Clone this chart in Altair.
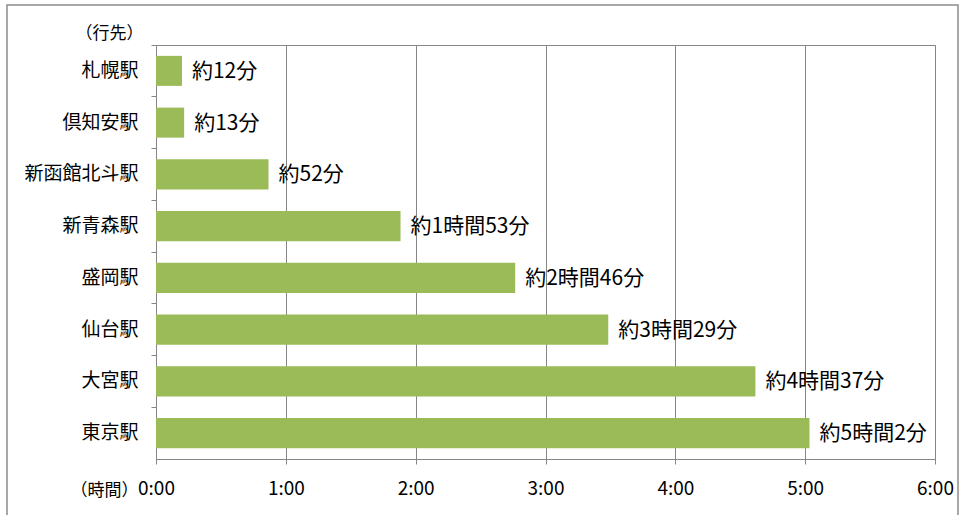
import altair as alt
import pandas as pd

stations = ["札幌駅", "倶知安駅", "新函館北斗駅", "新青森駅", "盛岡駅", "仙台駅", "大宮駅", "東京駅"]
minutes = [12, 13, 52, 113, 166, 209, 277, 302]
labels = ["約12分", "約13分", "約52分", "約1時間53分", "約2時間46分", "約3時間29分", "約4時間37分", "約5時間2分"]
x_ticks = [0, 60, 120, 180, 240, 300, 360]

df = pd.DataFrame({"station": stations, "minutes": minutes, "label": labels})

FONT = "Noto Sans CJK JP"
GRID = "#868686"

y_enc = alt.Y(
    "station:N",
    sort=stations,
    scale=alt.Scale(paddingInner=0, paddingOuter=0),
    axis=alt.Axis(
        title="（行先）",
        titleAngle=0,
        titleX=-47,
        titleY=-12,
        titleAlign="center",
        titleBaseline="middle",
        titleFont=FONT,
        titleFontSize=17,
        titleFontWeight="normal",
        titleColor="#000000",
        labelFont=FONT,
        labelFontSize=19,
        labelColor="#000000",
        labelPadding=13,
        tickSize=5,
        tickColor=GRID,
        domainColor=GRID,
        bandPosition=0,
        grid=False,
    ),
)

x_enc = alt.X(
    "minutes:Q",
    scale=alt.Scale(domain=[0, 360], nice=False),
    axis=alt.Axis(
        values=x_ticks,
        labelExpr="floor(datum.value / 60) + ':00'",
        labelFlush=False,
        labelOverlap=False,
        title="（時間）",
        titleX=-52,
        titleY=31,
        titleAlign="center",
        titleBaseline="middle",
        titleFont=FONT,
        titleFontSize=17,
        titleFontWeight="normal",
        titleColor="#000000",
        labelFont=FONT,
        labelFontSize=19,
        labelColor="#000000",
        labelPadding=15,
        tickSize=5,
        tickColor=GRID,
        domainColor=GRID,
        grid=True,
        gridColor=GRID,
        gridWidth=1,
    ),
)

base = alt.Chart(df)

bars = base.mark_bar(color="#9BBB59", height={"band": 0.58}).encode(y=y_enc, x=x_enc)

text = base.mark_text(
    align="left", baseline="middle", dx=10, dy=1, font=FONT, fontSize=21, color="#000000"
).encode(y=alt.Y("station:N", sort=stations), x=alt.X("minutes:Q"), text="label:N")

frame = alt.Chart(pd.DataFrame({"a": [0]})).mark_rect(
    fill=None, stroke="#8c8c8c", strokeWidth=1.5, clip=False
).encode(
    x=alt.value(-149), x2=alt.value(802), y=alt.value(-40), y2=alt.value(480)
)

chart = (
    alt.layer(bars, text, frame)
    .properties(
        width=779,
        height=414,
        autosize=alt.AutoSizeParams(type="none"),
        padding={"left": 156, "top": 45, "right": 28, "bottom": 56},
        background="white",
    )
    .configure_view(stroke=GRID, strokeWidth=1)
)

chart.save("out.html", embed_options={"renderer": "svg", "actions": False})
